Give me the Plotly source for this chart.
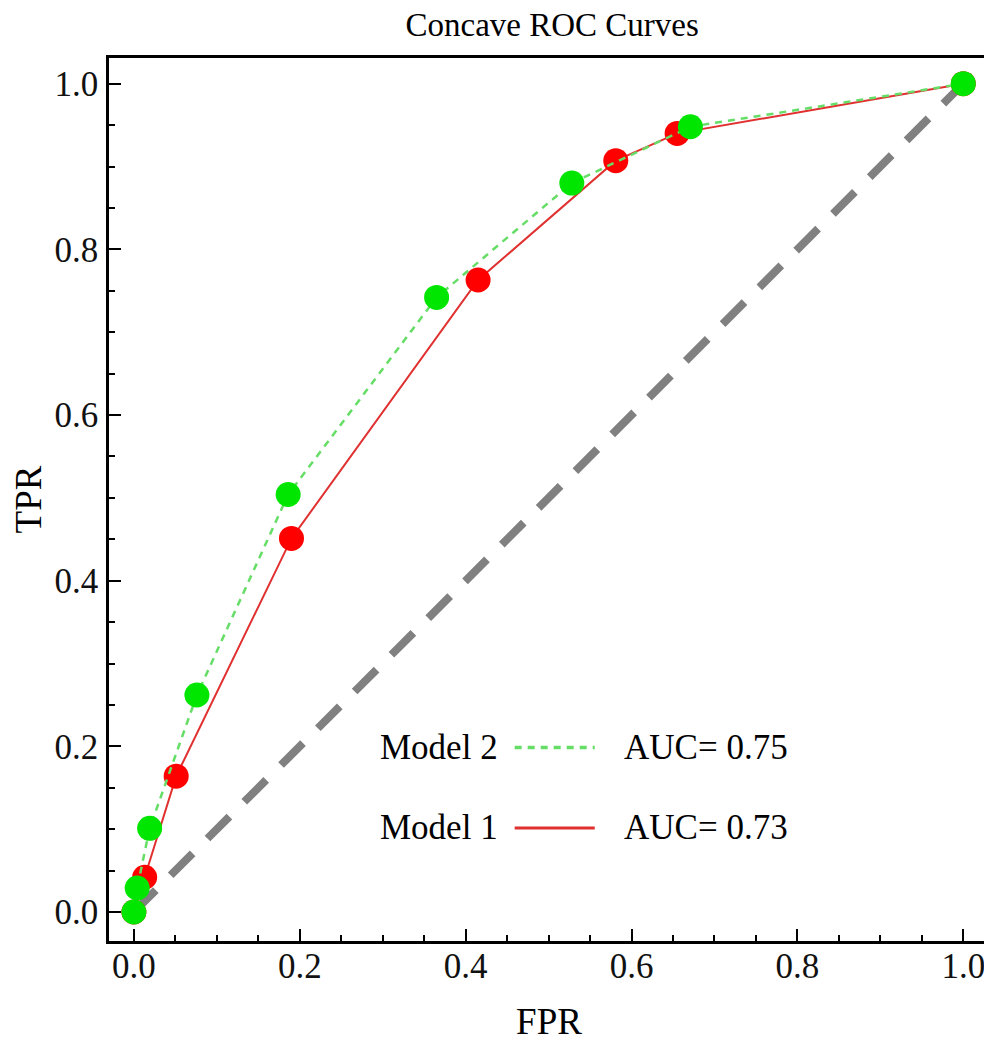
"""
Concave ROC curves for two models, Mathematica-style frame.
"""

import plotly.graph_objects as go

# Model 1 (red, solid)
fpr_model1 = [0.0, 0.013, 0.051, 0.190, 0.415, 0.581, 0.655, 1.0]
tpr_model1 = [0.0, 0.042, 0.164, 0.451, 0.763, 0.907, 0.940, 1.0]

# Model 2 (green, dashed)
fpr_model2 = [0.0, 0.004, 0.019, 0.076, 0.186, 0.365, 0.528, 0.671, 1.0]
tpr_model2 = [0.0, 0.029, 0.101, 0.262, 0.504, 0.742, 0.880, 0.948, 1.0]

# chance diagonal
chance_x = [0.0, 1.0]
chance_y = [0.0, 1.0]

auc_model1 = 0.73
auc_model2 = 0.75

tick_vals = [0.0, 0.2, 0.4, 0.6, 0.8, 1.0]
tick_text = ['0.0', '0.2', '0.4', '0.6', '0.8', '1.0']

SERIF = 'Liberation Serif'
RED = '#ff0000'
RED_LINE = '#e03030'
GREEN = '#00e600'
GREEN_LINE = '#66dd66'

fig = go.Figure()

fig.add_trace(go.Scatter(
    x=chance_x, y=chance_y,
    mode='lines',
    line=dict(color='#808080', width=8, dash='31px,21px'),
    showlegend=False, hoverinfo='skip'
))

fig.add_trace(go.Scatter(
    x=fpr_model1, y=tpr_model1,
    mode='lines+markers',
    name='Model 1',
    line=dict(color=RED_LINE, width=2),
    marker=dict(color=RED, size=25),
    showlegend=False
))

fig.add_trace(go.Scatter(
    x=fpr_model2, y=tpr_model2,
    mode='lines+markers',
    name='Model 2',
    line=dict(color=GREEN_LINE, width=2.5, dash='7px,6px'),
    marker=dict(color=GREEN, size=25),
    showlegend=False
))

# hand-made legend inside the plot: "Model N  ----  AUC= x"
legend_rows = [
    ('Model 2', auc_model2, GREEN_LINE, '7px,6px', 0.219),
    ('Model 1', auc_model1, RED_LINE, 'solid', 0.128),
]
for label, auc, color, dash, ypos in legend_rows:
    fig.add_annotation(
        text=label, xref='paper', yref='paper', x=0.444, y=ypos,
        xanchor='right', yanchor='middle', showarrow=False,
        font=dict(family=SERIF, size=35, color='black')
    )
    fig.add_shape(
        type='line', xref='paper', yref='paper',
        x0=0.461, x1=0.552, y0=ypos, y1=ypos,
        line=dict(color=color, width=3 if dash == 'solid' else 3.5, dash=dash)
    )
    fig.add_annotation(
        text=f'AUC= {auc:.2f}', xref='paper', yref='paper', x=0.583, y=ypos,
        xanchor='left', yanchor='middle', showarrow=False,
        font=dict(family=SERIF, size=35, color='black')
    )

axis_common = dict(
    showline=True, linecolor='black', linewidth=2.5, mirror=True,
    showgrid=False, zeroline=False, automargin=False,
    ticks='inside', ticklen=12, tickwidth=2, tickcolor='black',
    tickvals=tick_vals, ticktext=tick_text,
    minor=dict(ticks='inside', ticklen=6, tickwidth=2, tickcolor='black', dtick=0.05),
    tickfont=dict(family=SERIF, size=35, color='#111111'),
)

fig.update_xaxes(
    range=[-0.030, 1.031],
    title=dict(text='FPR', font=dict(family=SERIF, size=37, color='black'), standoff=24),
    ticklabelstandoff=-8,
    **axis_common
)
fig.update_yaxes(
    range=[-0.035, 1.031],
    title=dict(text='TPR', font=dict(family=SERIF, size=37, color='black'), standoff=37),
    ticklabelstandoff=1,
    **axis_common
)

# page body has an 8px margin, so the figure is shifted by that much
fig.update_layout(
    width=984, height=1042,
    margin=dict(l=101, r=3, t=50, b=109, autoexpand=False),
    plot_bgcolor='white', paper_bgcolor='white',
    title=dict(
        text='Concave ROC Curves', x=0.553, xanchor='center',
        y=1 - 16 / 1042, yanchor='middle', yref='container',
        font=dict(family=SERIF, size=33, color='black')
    ),
    showlegend=False
)

fig.write_html("out.html")
